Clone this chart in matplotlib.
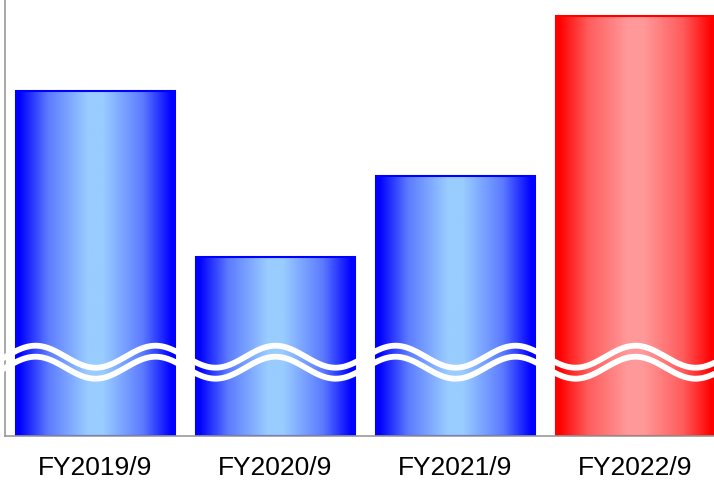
import numpy as np
import matplotlib
matplotlib.use("Agg")
import matplotlib.pyplot as plt
from matplotlib.colors import LinearSegmentedColormap, to_rgb

plt.rcParams['font.family'] = ['Liberation Sans', 'DejaVu Sans']

labels = ['FY2019/9', 'FY2020/9', 'FY2021/9', 'FY2022/9']
values = [345, 179, 260, 420]
edge_colors = ['#0000ff', '#0000ff', '#0000ff', '#ff0000']
mid_colors = ['#99ccff', '#99ccff', '#99ccff', '#ff9999']

fig = plt.figure(figsize=(7.14, 4.85), dpi=100)
ax = fig.add_axes([5/714, 48/485, 709/714, 437/485])

width = 0.883
x = np.arange(len(values))

# horizontal gradient: dark at the sides, light in the middle
grad = np.linspace(0, 1, 256).reshape(1, -1)

bars = ax.bar(x, values, width=width, color='none', zorder=2)
for b, v, ec, mc in zip(bars, values, edge_colors, mid_colors):
    blend = tuple(0.4 * np.array(to_rgb(ec)) + 0.6 * np.array(to_rgb(mc)))
    cmap = LinearSegmentedColormap.from_list(
        'g', [(0, ec), (0.02, ec), (0.2, blend), (0.45, mc), (0.55, mc),
              (0.8, blend), (0.98, ec), (1, ec)])
    x0 = b.get_x()
    im = ax.imshow(grad, cmap=cmap, aspect='auto', interpolation='bilinear',
                   extent=[x0, x0 + width, 0, v], zorder=1)
    im.set_clip_path(b)
    b.set_edgecolor(ec)
    b.set_linewidth(1.5)

# wavy break lines
wx = np.linspace(-0.6, 3.5, 1200)
upper = 79.3 - 11 * np.cos(3 * np.pi * wx)
lower = 68.3 - 11 * np.cos(3 * np.pi * wx)
ax.plot(wx, upper, color='white', lw=4.2, zorder=5, clip_on=False, solid_capstyle='butt')
ax.plot(wx, lower, color='white', lw=4.2, zorder=5, clip_on=False, solid_capstyle='butt')

ax.set_xlim(-0.503, -0.503 + 709 / 180)
ax.set_ylim(0, 437)

ax.set_yticks([])
ax.set_xticks(x)
ax.set_xticklabels(labels, fontsize=19)
ax.tick_params(axis='x', length=0, pad=14)

for s in ['top', 'right']:
    ax.spines[s].set_visible(False)
for s in ['left', 'bottom']:
    ax.spines[s].set_color('#999999')
    ax.spines[s].set_linewidth(1.2)
    ax.spines[s].set_zorder(3)

fig.savefig('out.png', dpi=100)
